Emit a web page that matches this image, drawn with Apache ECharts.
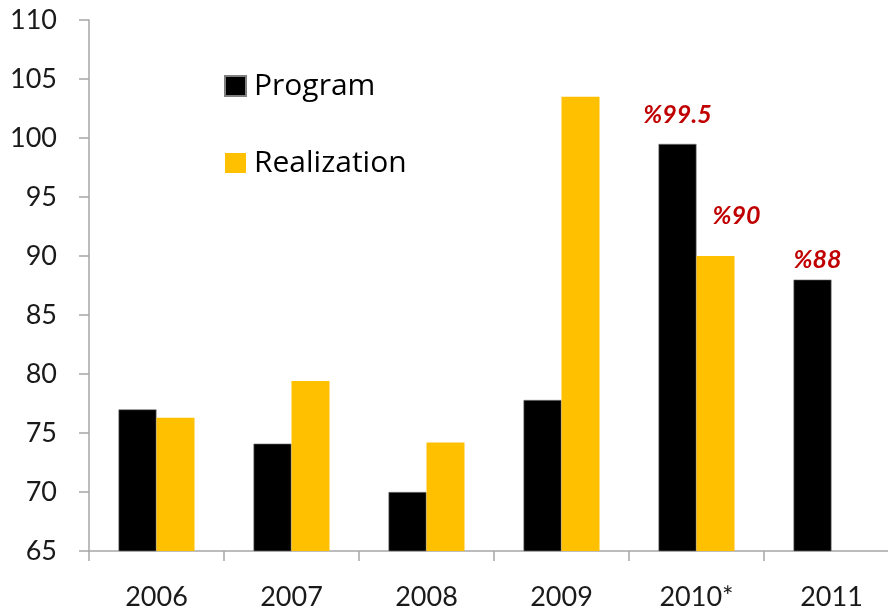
<!DOCTYPE html>
<html>
<head>
    <meta charset="utf-8" />
    <title>Program vs Realization</title>
    <script src="https://cdn.jsdelivr.net/npm/echarts@6/dist/echarts.min.js"></script>
    <style>
        body { margin: 0; padding: 0; background: #fff; }
        #main { width: 888px; height: 616px; }
    </style>
</head>
<body>
<div id="main"></div>
<script type="text/javascript">
    // data
    var years = ['2006', '2007', '2008', '2009', '2010*', '2011'];
    var program = [77.0, 74.1, 70.0, 77.8, 99.5, 88.0];
    var realization = [76.3, 79.4, 74.2, 103.5, 90.0, null];
    var programNotes = ['', '', '', '', '%99.5', '%88'];
    var realizationNotes = ['', '', '', '', '%90', ''];

    var fontName = 'Lato';
    var noteStyle = {
        color: '#c00000',
        fontStyle: 'italic',
        fontWeight: 'bold',
        fontSize: 25,
        fontFamily: fontName
    };

    // label placement per bar (only the marked ones get one)
    var programOffsets = [null, null, null, null, [0, -11], [5, -2]];
    var realizationOffsets = [null, null, null, null, [21, -23], null];

    function withNotes(values, notes, offsets) {
        return values.map(function (v, i) {
            if (!notes[i]) return v;
            return {
                value: v,
                label: Object.assign({
                    show: true,
                    position: 'top',
                    offset: offsets[i],
                    formatter: notes[i]
                }, noteStyle)
            };
        });
    }

    var myChart = echarts.init(document.getElementById('main'));

    var option = {
        backgroundColor: '#fff',
        animation: false,
        legend: {
            orient: 'vertical',
            left: 224,
            top: 71,
            padding: 0,
            itemWidth: 21,
            itemHeight: 20,
            itemGap: 47,
            icon: 'rect',
            data: ['Program', 'Realization'],
            textStyle: {
                fontFamily: 'Open Sans',
                fontSize: 30,
                lineHeight: 20,
                color: '#000',
                padding: [0, 0, 0, 3]
            }
        },
        grid: {
            left: 89,
            width: 810,
            top: 20,
            bottom: 65,
            containLabel: false,
            outerBoundsMode: 'none'
        },
        xAxis: {
            type: 'category',
            data: years,
            boundaryGap: true,
            axisLine: { lineStyle: { color: '#a6a6a6', width: 1.5 } },
            axisTick: { show: true, length: 10, inside: false, lineStyle: { color: '#a6a6a6', width: 1.5 } },
            axisLabel: {
                margin: 33,
                fontFamily: fontName,
                fontSize: 27,
                color: '#1a1a1a'
            }
        },
        yAxis: {
            type: 'value',
            min: 65,
            max: 110,
            interval: 5,
            axisLine: { show: true, lineStyle: { color: '#a6a6a6', width: 1.5 } },
            axisTick: { show: true, length: 10, lineStyle: { color: '#a6a6a6', width: 1.5 } },
            splitLine: { show: false },
            axisLabel: {
                margin: 32,
                fontFamily: fontName,
                fontSize: 27,
                color: '#1a1a1a'
            }
        },
        series: [
            {
                name: 'Program',
                type: 'bar',
                barWidth: 38,
                barGap: '0%',
                itemStyle: { color: '#000000', borderColor: '#7f7f7f', borderWidth: 0.6 },
                data: withNotes(program, programNotes, programOffsets)
            },
            {
                name: 'Realization',
                type: 'bar',
                barWidth: 38,
                barGap: '0%',
                itemStyle: { color: '#ffc000' },
                data: withNotes(realization, realizationNotes, realizationOffsets)
            }
        ]
    };

    myChart.setOption(option);
</script>
</body>
</html>
